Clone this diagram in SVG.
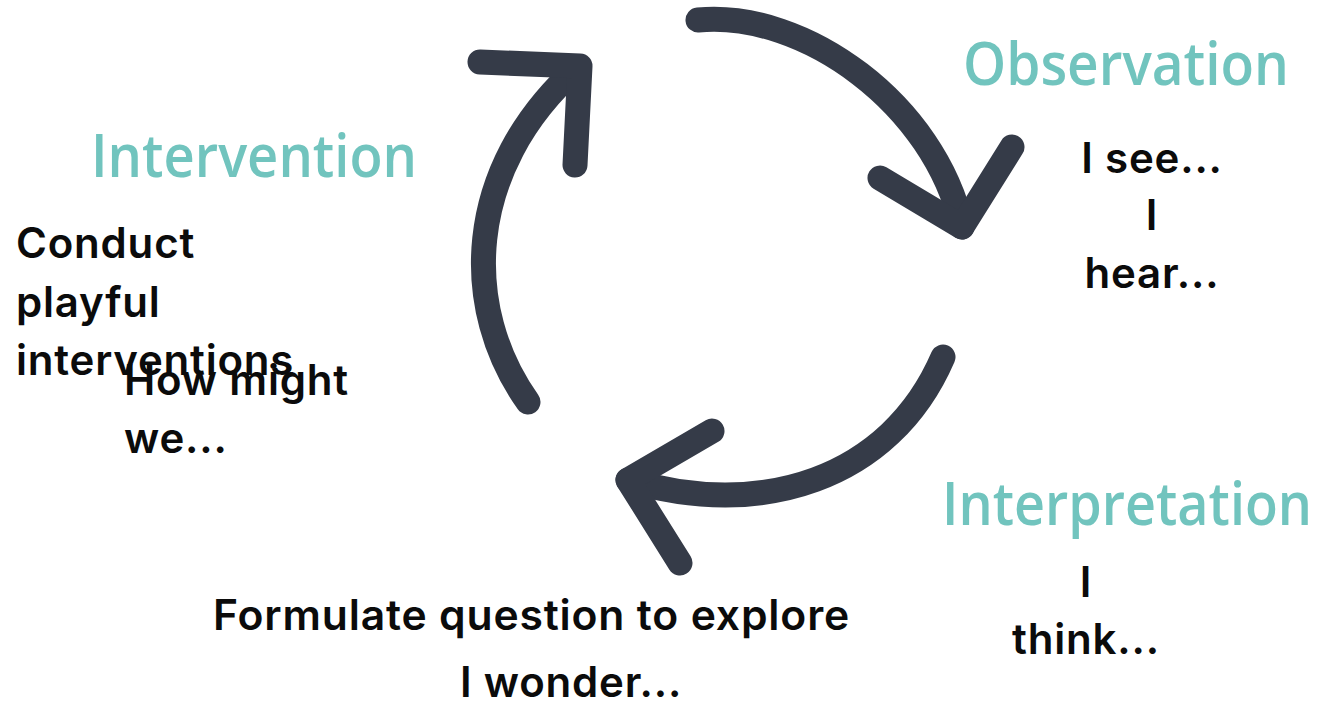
<svg xmlns="http://www.w3.org/2000/svg" width="1318" height="704" viewBox="0 0 1318 704">
<style>
.arrow{fill:none;stroke:#353b48;stroke-width:25;stroke-linecap:round;stroke-linejoin:round}
.head{font-family:"Open Sans","Noto Sans",sans-serif;font-size:60px;fill:#71c4be;font-weight:600}
.body{font-family:Inter,"Liberation Sans",sans-serif;font-size:42px;font-weight:600;fill:#0b0b0b;letter-spacing:0.8px}
.mid{text-anchor:middle}
</style>
<rect width="1318" height="704" fill="#ffffff"/>
<g id="connectors">
  <g id="arrow-observation">
    <path class="arrow" d="M698,20 C805,10 935,105 962,227"/>
    <polyline class="arrow" points="880,178 962,227 1012,147"/>
  </g>
  <g id="arrow-interpretation">
    <path class="arrow" d="M943,357 C890,480 760,520 628,480"/>
    <polyline class="arrow" points="712,431 628,480 680,563"/>
  </g>
  <g id="arrow-intervention">
    <path class="arrow" d="M528,402 C462,310 462,170 578,67"/>
    <polyline class="arrow" points="480,62 580,66 575,165"/>
  </g>
</g>
<g id="observation">
  <text class="head" x="963" y="85" textLength="326" lengthAdjust="spacingAndGlyphs">Observation</text>
  <text class="body mid" x="1152" y="173">I see...</text>
  <text class="body mid" x="1152" y="230">I</text>
  <text class="body mid" x="1152" y="288">hear...</text>
</g>
<g id="interpretation">
  <text class="head" x="942" y="525" textLength="370" lengthAdjust="spacingAndGlyphs">Interpretation</text>
  <text class="body mid" x="1086" y="597">I</text>
  <text class="body mid" x="1086" y="654">think...</text>
</g>
<g id="question">
  <text class="body" x="213" y="630" textLength="637" lengthAdjust="spacingAndGlyphs">Formulate question to explore</text>
  <text class="body" x="460" y="697">I wonder...</text>
</g>
<g id="intervention">
  <text class="head" x="91" y="177" textLength="326" lengthAdjust="spacingAndGlyphs">Intervention</text>
  <text class="body" x="16" y="258">Conduct</text>
  <text class="body" x="16" y="317">playful</text>
  <text class="body" x="16" y="375">interventions</text>
  <text class="body" x="124" y="395">How might</text>
  <text class="body" x="124" y="453">we...</text>
</g>
</svg>
